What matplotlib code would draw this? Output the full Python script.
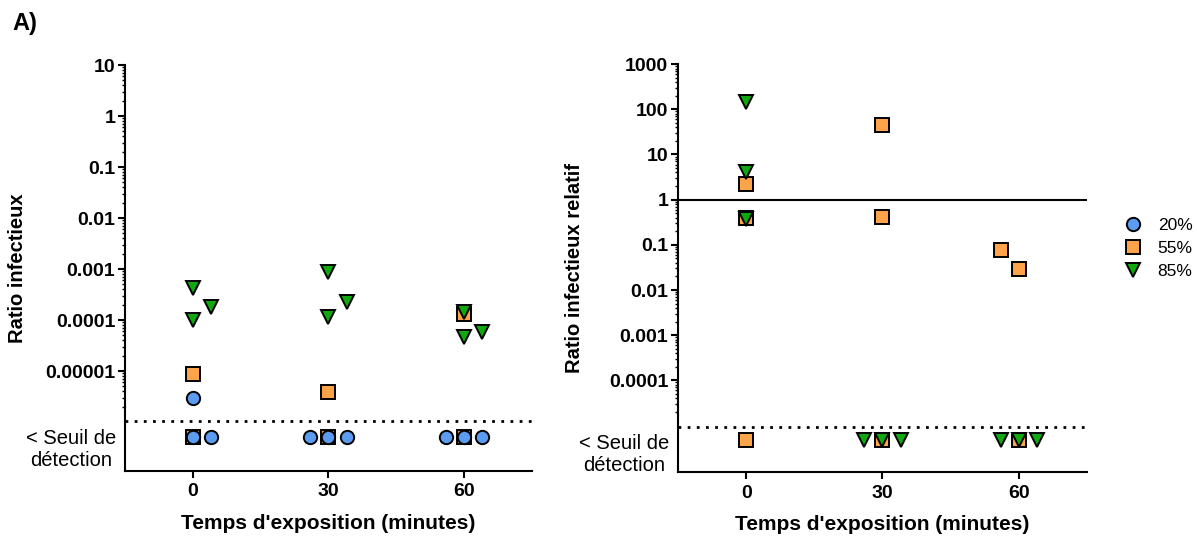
import numpy as np
import matplotlib.pyplot as plt
from matplotlib.ticker import LogLocator, NullFormatter

plt.rcParams['font.family'] = ['Liberation Sans', 'DejaVu Sans']

series = ['20%', '55%', '85%']
colors = ['#5b9cf0', '#fda44a', '#0fa80f']
markers = ['o', 's', 'v']
msize = [9.6, 10.6, 9.6]
zorders = [4, 3, 5]

times = [0, 30, 60]

# panneau gauche : ratio infectieux (valeurs détectées)
left_20_t = [0]
left_20_y = [2.9e-6]
left_55_t = [0, 30, 60]
left_55_y = [8.7e-6, 3.9e-6, 1.3e-4]
left_85_t = [0, 0, 0, 30, 30, 30, 60, 60, 60]
left_85_y = [4.2e-4, 1.0e-4, 1.8e-4, 8.9e-4, 1.15e-4, 2.3e-4, 1.43e-4, 4.7e-5, 5.8e-5]
left_85_dx = [0, 0, 4, 0, 0, 4, 0, 0, 4]   # décalage des points (minutes)

# panneau gauche : < seuil de détection
left_20_lod_t = [0, 0, 30, 30, 30, 60, 60, 60]
left_20_lod_dx = [0, 4, -4, 0, 4, -4, 0, 4]
left_55_lod_t = [0, 30, 60]

# panneau droit : ratio infectieux relatif
right_55_t = [0, 0, 30, 30, 60, 60]
right_55_y = [2.2, 0.40, 45, 0.42, 0.077, 0.029]
right_55_dx = [0, 0, 0, 0, -4, 0]
right_85_t = [0, 0, 0]
right_85_y = [147, 4.1, 0.38]

# panneau droit : < seuil de détection
right_55_lod_t = [0, 30, 60]
right_85_lod_t = [30, 30, 30, 60, 60, 60]
right_85_lod_dx = [-4, 0, 4, -4, 0, 4]

left_ticks = [10, 1, 0.1, 0.01, 0.001, 0.0001, 0.00001]
left_ticklabels = ['10', '1', '0.1', '0.01', '0.001', '0.0001', '0.00001']
right_ticks = [1000, 100, 10, 1, 0.1, 0.01, 0.001, 0.0001]
right_ticklabels = ['1000', '100', '10', '1', '0.1', '0.01', '0.001', '0.0001']

lod_label = '< Seuil de\ndétection'
xlabel = "Temps d'exposition (minutes)"


def mstyle(i):
    return dict(marker=markers[i], ms=msize[i], mfc=colors[i], mec='black',
                mew=1.4, ls='none', zorder=zorders[i], clip_on=False,
                label=series[i])


def make_panel(top_rect, bot_rect, ylim, ticks, ticklabels, dot_y, lab_y):
    ax = fig.add_axes(top_rect)
    axb = fig.add_axes(bot_rect)
    ax.set_yscale('log')
    ax.set_ylim(*ylim)
    ax.set_xlim(-15, 75)
    axb.set_xlim(-15, 75)
    axb.set_ylim(0, 1)

    ax.set_yticks(ticks, ticklabels, fontsize=14, fontweight='bold')
    ax.yaxis.set_minor_locator(LogLocator(base=10, subs=np.arange(2, 10), numticks=100))
    ax.yaxis.set_minor_formatter(NullFormatter())
    ax.tick_params(axis='y', which='major', length=5, width=1.5, pad=2)
    ax.tick_params(axis='y', which='minor', length=2.5, width=1)
    ax.tick_params(axis='x', which='both', bottom=False, labelbottom=False)
    for s in ['top', 'right', 'bottom']:
        ax.spines[s].set_visible(False)
    ax.spines['left'].set_linewidth(1.5)

    for s in ['top', 'right']:
        axb.spines[s].set_visible(False)
    axb.spines['left'].set_linewidth(1.5)
    axb.spines['bottom'].set_linewidth(1.5)
    axb.set_yticks([lab_y], [lod_label], fontsize=14.5, multialignment='center')
    axb.tick_params(axis='y', length=0, pad=6)
    axb.set_xticks(times, [str(t) for t in times], fontsize=14, fontweight='bold')
    axb.tick_params(axis='x', length=5, width=1.5, pad=4)
    axb.set_xlabel(xlabel, fontsize=15, fontweight='bold', labelpad=10)
    axb.axhline(dot_y, color='black', lw=2, ls=(0, (1, 2.3)))
    ax.patch.set_alpha(0)
    axb.patch.set_alpha(0)
    return ax, axb


fig = plt.figure(figsize=(11.97, 5.39), dpi=100)

# ---- panneau gauche
axL, axLb = make_panel([0.1044, 0.2449, 0.340, 0.6345], [0.1044, 0.1262, 0.340, 0.1187],
                       (1.97e-6, 10), left_ticks, left_ticklabels, 0.78, 0.39)
lod_l = 0.53
h55, = axL.plot(left_55_t, left_55_y, **mstyle(1))
axL.plot(left_20_t, left_20_y, **mstyle(0))
h85, = axL.plot(np.add(left_85_t, left_85_dx), left_85_y, **mstyle(2))
axLb.plot(left_55_lod_t, [lod_l] * len(left_55_lod_t), **mstyle(1))
h20, = axLb.plot(np.add(left_20_lod_t, left_20_lod_dx), [lod_l] * len(left_20_lod_t), **mstyle(0))

# ---- panneau droit
axR, axRb = make_panel([0.5664, 0.230, 0.3417, 0.651], [0.5664, 0.1243, 0.3417, 0.1058],
                       (1.71e-5, 1000), right_ticks, right_ticklabels, 0.795, 0.37)
lod_r = 0.56
axR.axhline(1, color='black', lw=1.5, zorder=1)
axR.plot(np.add(right_55_t, right_55_dx), right_55_y, **mstyle(1))
axR.plot(right_85_t, right_85_y, **mstyle(2))
axRb.plot(right_55_lod_t, [lod_r] * len(right_55_lod_t), **mstyle(1))
axRb.plot(np.add(right_85_lod_t, right_85_lod_dx), [lod_r] * len(right_85_lod_t), **mstyle(2))

fig.text(17.5 / 1197, 1 - 268 / 539, 'Ratio infectieux', rotation=90,
         ha='center', va='center', fontsize=14.5, fontweight='bold')
fig.text(575 / 1197, 1 - 268 / 539, 'Ratio infectieux relatif', rotation=90,
         ha='center', va='center', fontsize=14.5, fontweight='bold')
fig.text(12 / 1197, 1 - 12 / 539, 'A)', ha='left', va='top', fontsize=17, fontweight='bold')

fig.legend([h20, h55, h85], series, loc='upper left', bbox_to_anchor=(0.9396, 0.596),
           frameon=False, fontsize=12.5, handlelength=1.0, handletextpad=0.9,
           labelspacing=0.45, borderpad=0, borderaxespad=0)

fig.savefig('out.png', dpi=100)
